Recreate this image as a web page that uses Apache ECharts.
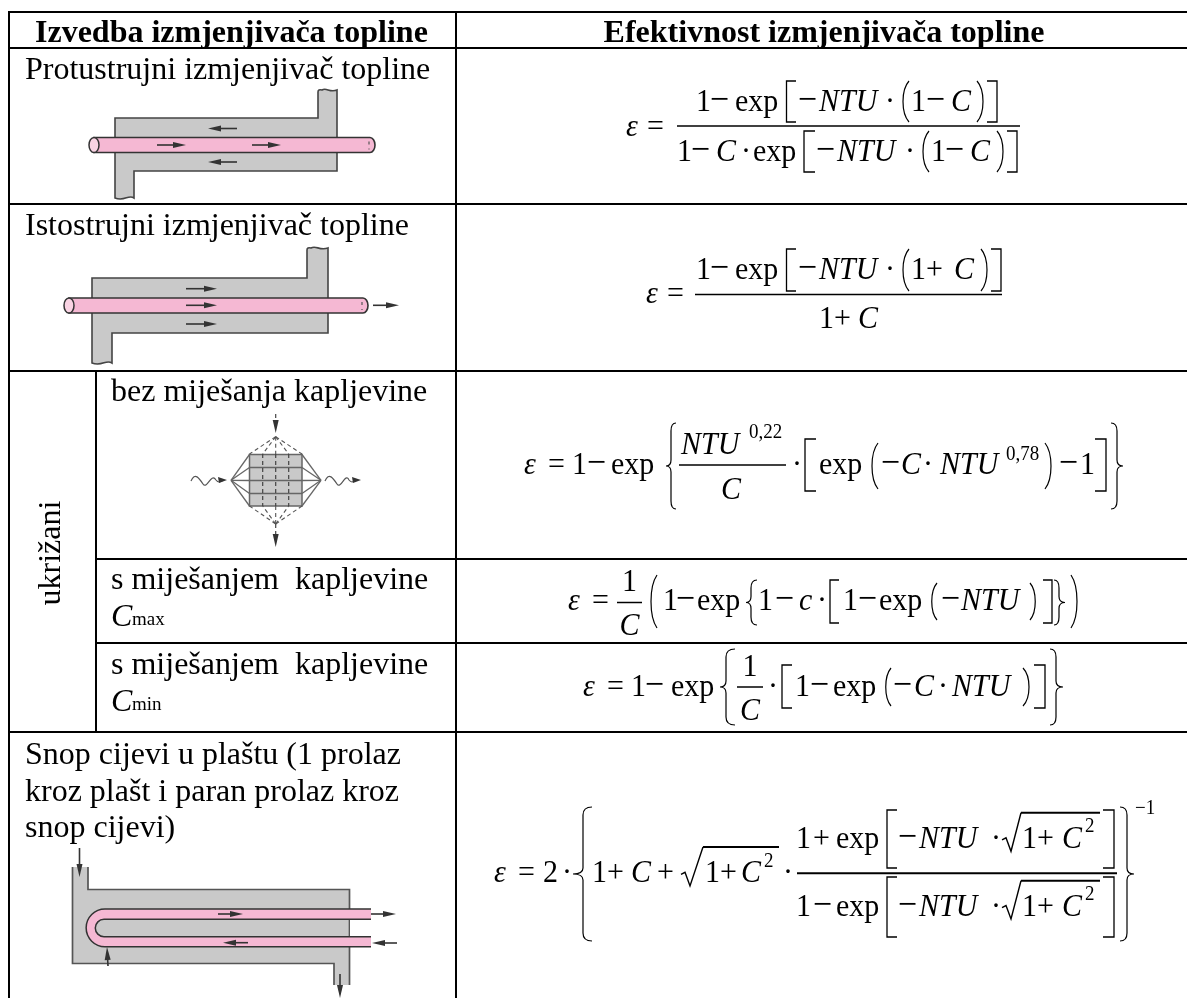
<!DOCTYPE html>
<html>
<head>
<meta charset="utf-8">
<style>html,body{margin:0;background:#fff}#main{width:1187px;height:998px}</style>
<script src="https://cdn.jsdelivr.net/npm/echarts@6/dist/echarts.min.js"></script>
</head>
<body>
<div id="main"></div>
<script>
const headers = ['Izvedba izmjenjivača topline', 'Efektivnost izmjenjivača topline']
const rowLabels = ['Protustrujni izmjenjivač topline', 'Istostrujni izmjenjivač topline', 'bez miješanja kapljevine', 's miješanjem  kapljevine', 's miješanjem  kapljevine']
const snopLines = ['Snop cijevi u plaštu (1 prolaz', 'kroz plašt i paran prolaz kroz', 'snop cijevi)']
const groupLabel = 'ukrižani'
const fullLines = [12, 48, 204, 371, 732]
const subLines = [559, 643]

const FONT = '"Liberation Serif", "Times New Roman", serif'
const INK = '#000'
const LINE = '#444'
const SHELL = '#c9c9c9'
const TUBE = '#f5b8d3'
const els = []
let stretch = 1 // formule su u originalu malo razvucene po visini

// t = tekst na bazi (baseline), s = velicina, st = stil
function t(x, b, str, s, st, align) {
  const it = st === 'i'
  const bold = st === 'b'
  els.push({
    type: 'text',
    x: x,
    y: b - stretch * 0.24 * s,
    scaleY: stretch,
    style: {
      x: 0, y: 0, text: str, fill: INK,
      font: (it ? 'italic ' : '') + (bold ? 'bold ' : '') + s + 'px ' + FONT,
      align: align || 'left', verticalAlign: 'middle'
    }
  })
}
function path(d, fill, stroke, w, dash) {
  els.push({
    type: 'path',
    shape: { pathData: d },
    style: { fill: fill || 'none', stroke: stroke || 'none', lineWidth: w || 1, lineDash: dash || null }
  })
}
function ln(x1, y1, x2, y2, w, c, dash) {
  els.push({
    type: 'line',
    shape: { x1: x1, y1: y1, x2: x2, y2: y2 },
    style: { stroke: c || '#000', lineWidth: w || 1, lineDash: dash || null }
  })
}
function arrow(x1, y1, x2, y2) {
  const dx = x2 - x1, dy = y2 - y1, l = Math.sqrt(dx * dx + dy * dy)
  const ux = dx / l, uy = dy / l, h = 13, o = 3
  ln(x1, y1, x2 - ux * h * 0.6, y2 - uy * h * 0.6, 1.6, '#333')
  path('M' + x2 + ' ' + y2 + 'L' + (x2 - ux * h - uy * o) + ' ' + (y2 - uy * h + ux * o) + 'L' + (x2 - ux * h + uy * o) + ' ' + (y2 - uy * h - ux * o) + 'Z', '#333')
}
// dijelovi formule
function sq(x0, x1, y0, y1) { // x0 = strana okomite crte, x1 = kraj nozica
  path('M' + x1 + ' ' + y0 + 'L' + x0 + ' ' + y0 + 'L' + x0 + ' ' + y1 + 'L' + x1 + ' ' + y1, null, INK, 1.3)
}
function paren(x0, x1, y0, y1) { // x0 = vrhovi, x1 = trbuh
  const k = (y1 - y0) * 0.22
  path('M' + x0 + ' ' + y0 + 'C' + x1 + ' ' + (y0 + k) + ' ' + x1 + ' ' + (y1 - k) + ' ' + x0 + ' ' + y1, null, INK, 1.2)
}
function brace(xTip, xSp, xEnd, y0, y1) {
  const m = (y0 + y1) / 2
  path('M' + xEnd + ' ' + y0 + 'Q' + xSp + ' ' + y0 + ' ' + xSp + ' ' + (y0 + 8) + 'L' + xSp + ' ' + (m - 6) +
    'Q' + xSp + ' ' + m + ' ' + xTip + ' ' + m + 'Q' + xSp + ' ' + m + ' ' + xSp + ' ' + (m + 6) +
    'L' + xSp + ' ' + (y1 - 8) + 'Q' + xSp + ' ' + y1 + ' ' + xEnd + ' ' + y1, null, INK, 1.2)
}
function sqrt(x0, xV, xTop, xEnd, yTop, yBot) {
  const yM = yBot - (yBot - yTop) * 0.35
  path('M' + x0 + ' ' + (yM + 2) + 'L' + (x0 + 4) + ' ' + yM + 'L' + xV + ' ' + yBot + 'L' + xTop + ' ' + yTop, null, INK, 1.4)
  ln(xTop, yTop, xEnd, yTop, 2)
}

function table() {
  fullLines.forEach(y => ln(8, y, 1187, y, 2))
  subLines.forEach(y => ln(96, y, 1187, y, 2))
  ln(9, 12, 9, 998, 2)
  ln(456, 12, 456, 998, 2)
  ln(96, 371, 96, 732, 2)
}

function labels() {
  t(35, 41, headers[0], 32, 'b')
  t(824, 41, headers[1], 32, 'b', 'center')
  t(25, 78, rowLabels[0], 32)
  t(25, 234, rowLabels[1], 32)
  t(111, 400, rowLabels[2], 32)
  t(111, 588, rowLabels[3], 32)
  t(111, 625, 'C', 32, 'i')
  t(132, 625, 'max', 19)
  t(111, 673, rowLabels[4], 32)
  t(111, 710, 'C', 32, 'i')
  t(132, 710, 'min', 19)
  snopLines.forEach((s, i) => t(25, 763 + i * 36.8, s, 32))
  els.push({
    type: 'text',
    rotation: Math.PI / 2,
    x: 52, y: 553,
    style: {
      x: 0, y: 0, text: groupLabel, fill: INK,
      font: '32px ' + FONT, align: 'center', verticalAlign: 'middle'
    }
  })
}

function wave(x, y, w, h) {
  return 'C' + (x + w * 0.3) + ' ' + (y - h) + ' ' + (x + w * 0.5) + ' ' + (y + h) + ' ' + (x + w) + ' ' + y
}

function tubeEnds(xL, xR, y0, y1) {
  const cy = (y0 + y1) / 2, ry = (y1 - y0) / 2
  path('M' + xL + ' ' + y0 + 'L' + xR + ' ' + y0 + 'A5 ' + ry + ' 0 0 1 ' + xR + ' ' + y1 + 'L' + xL + ' ' + y1 + 'Z', TUBE, '#333', 1.6)
  els.push({ type: 'ellipse', shape: { cx: xL, cy: cy, rx: 5, ry: ry }, style: { fill: '#f9d3e3', stroke: '#333', lineWidth: 1.5 } })
  ln(xR - 1, y0 + 4, xR - 1, y1 - 3, 1.2, '#555', [3, 4])
}

function diagram1() {
  path('M115 118L318 118L318 92Q318 89 322 90' + wave(322, 90, 15, 3) + 'L337 171L134 171L134 198' + wave(134, 198, -19, 4) + 'Z', SHELL, LINE, 1.6)
  tubeEnds(94, 370, 137.5, 152.5)
  arrow(237, 128.5, 208, 128.5)
  arrow(237, 162, 208, 162)
  arrow(157, 145, 186, 145)
  arrow(252, 145, 281, 145)
}
function diagram2() {
  path('M92 278L307 278L307 250Q307 247 311 248' + wave(311, 248, 17, 3) + 'L328 333L112 333L112 363' + wave(112, 363, -20, 4) + 'Z', SHELL, LINE, 1.6)
  tubeEnds(69, 363, 298, 313)
  arrow(186, 288.7, 217, 288.7)
  arrow(186, 305.3, 217, 305.3)
  arrow(186, 324, 217, 324)
  arrow(373, 305.3, 399, 305.3)
}
function diagram3() {
  const c = '#666', d = [4, 3]
  els.push({ type: 'rect', shape: { x: 249.5, y: 454.5, width: 52.5, height: 51.5 }, style: { fill: SHELL, stroke: c, lineWidth: 1.5 } })
  ;[467.5, 480.5, 493.5].forEach(y => {
    ln(249, y, 302, y, 1.3, c)
    ln(231, 480.3, 249.5, y, 1.3, c)
    ln(321, 480.3, 302, y, 1.3, c)
  })
  ;[454.5, 506].forEach(y => { ln(231, 480.3, 249.5, y, 1.3, c); ln(321, 480.3, 302, y, 1.3, c) })
  ;[262.7, 275.7, 288.7].forEach(x => {
    ln(x, 454, x, 506, 1.2, '#444', d)
    ln(275.7, 436.7, x, 454, 1.1, '#555', d)
    ln(275.7, 524, x, 506, 1.1, '#555', d)
  })
  ;[249.5, 302].forEach(x => { ln(275.7, 436.7, x, 454, 1.1, '#555', d); ln(275.7, 524, x, 506, 1.1, '#555', d) })
  ln(275.7, 414, 275.7, 426, 1.2, '#444', d)
  arrow(275.7, 424, 275.7, 433)
  ln(275.7, 524, 275.7, 538, 1.2, '#444', d)
  arrow(275.7, 537, 275.7, 547)
  path('M191 481C195 472 199 478 203 484C207 490 211 472 216 480C219 484 221 481 224 480', null, '#555', 1.2)
  path('M227 480L218 477L219 483Z', '#333')
  path('M325 481C329 472 333 478 337 484C341 490 345 472 349 480C352 484 354 481 356 480', null, '#555', 1.2)
  path('M361 480L352 477L353 483Z', '#333')
}
function diagram4() {
  const c = '#555'
  path('M72.5 867L88 867L88 889.5L349.5 889.5L349.5 985L334 985L334 963.5L72.5 963.5Z', SHELL)
  path('M72.5 867L72.5 963.5L334 963.5L334 985', null, c, 1.7)
  path('M88 867L88 889.5L349.5 889.5L349.5 985', null, c, 1.7)
  path('M371 909L105 909A18.8 18.8 0 0 0 105 946.7L371 946.7L371 937L104 937A9 9 0 0 1 104 919L371 919Z', TUBE)
  path('M371 909L105 909A18.8 18.8 0 0 0 105 946.7L371 946.7', null, '#333', 1.5)
  path('M371 919.3L104 919.3A8.7 8.7 0 0 0 104 936.7L371 936.7', null, '#333', 1.5)
  els.push({ type: 'rect', shape: { x: 350, y: 920, width: 21, height: 16 }, style: { fill: '#fff' } })
  arrow(218, 914, 243, 914)
  arrow(248, 942.7, 223, 942.7)
  arrow(371, 914, 396, 914)
  arrow(397, 943, 372, 943)
  arrow(79.5, 848, 79.5, 877)
  arrow(108, 966, 107, 947)
  arrow(340, 974, 340, 998)
}

// minus je u originalu dulji od glifa fonta
function minus(x, b, s) { t(x - 1, b, '−', s + 4) }

function formula1() {
  const S = 30
  t(626, 135, 'ε', S, 'i'); t(647, 135, '=', S)
  ln(677, 126, 1020, 126, 1.5)
  t(696, 110, '1', S); minus(711, 110, S); t(735, 110, 'exp', S)
  sq(786.5, 796, 81, 122); minus(799, 110, S); t(819, 110, 'NTU', S, 'i'); t(885, 110, '·', S)
  paren(909, 901, 81, 122); t(911, 110, '1', S); minus(927, 110, S); t(951, 110, 'C', S, 'i')
  paren(977, 985, 81, 122); sq(997, 987, 81, 122)
  t(677, 160, '1', S); minus(692, 160, S); t(716, 160, 'C', S, 'i'); t(741, 160, '·', S); t(753, 160, 'exp', S)
  sq(804, 815, 131, 172); minus(817, 160, S); t(837, 160, 'NTU', S, 'i'); t(905, 160, '·', S)
  paren(929, 921, 131, 172); t(931, 160, '1', S); minus(946, 160, S); t(970, 160, 'C', S, 'i')
  paren(997, 1005, 131, 172); sq(1017, 1007, 131, 172)
}
function formula2() {
  const S = 30
  t(646, 302.5, 'ε', S, 'i'); t(667, 302.5, '=', S)
  ln(695, 294.5, 1002, 294.5, 1.5)
  t(696, 278, '1', S); minus(711, 278, S); t(735, 278, 'exp', S)
  sq(786.5, 796, 249, 291); minus(799, 278, S); t(819, 278, 'NTU', S, 'i'); t(885, 278, '·', S)
  paren(909, 901, 249, 291); t(911, 278, '1', S); t(926, 278, '+', S); t(954, 278, 'C', S, 'i')
  paren(981, 989, 249, 291); sq(1001, 991, 249, 291)
  t(819, 327, '1', S); t(834, 327, '+', S); t(858, 327, 'C', S, 'i')
}
function formula3() {
  const S = 30, B = 473
  t(524, B, 'ε', S, 'i'); t(548, B, '=', S); t(572, B, '1', S); minus(588, B, S); t(611, B, 'exp', S)
  brace(666, 671, 676, 423, 509)
  ln(679, 465, 786, 465, 1.5)
  t(681, 453, 'NTU', S, 'i'); t(749, 438, '0,22', 19)
  t(721, 498, 'C', S, 'i')
  t(792, B, '·', S)
  sq(805, 816, 439, 491); t(819, B, 'exp', S)
  paren(878, 870, 443, 489); minus(882, B, S); t(901, B, 'C', S, 'i'); t(923, B, '·', S)
  t(940, B, 'NTU', S, 'i'); t(1006, 460, '0,78', 19)
  paren(1045, 1053, 443, 489); minus(1060, B, S); t(1080, B, '1', S)
  sq(1106, 1095, 439, 491)
  brace(1123, 1117, 1111, 423, 509)
}
function formula4() {
  const S = 30, B = 609
  t(568, B, 'ε', S, 'i'); t(592, B, '=', S)
  ln(617, 602.5, 642, 602.5, 1.5); t(629.5, 590, '1', S, null, 'center'); t(629.5, 634, 'C', S, 'i', 'center')
  paren(657, 649, 575, 628)
  t(663, B, '1', S); minus(677, B, S); t(697, B, 'exp', S)
  brace(746, 751, 757, 580, 625)
  t(758, B, '1', S); minus(776, B, S); t(799, B, 'c', S, 'i'); t(817, B, '·', S)
  sq(830, 839, 580, 623); t(843, B, '1', S); minus(859, B, S); t(879, B, 'exp', S)
  paren(937, 930, 583, 620); minus(942, B, S); t(961, B, 'NTU', S, 'i')
  paren(1030, 1037, 583, 620); sq(1052, 1043, 580, 623)
  brace(1065, 1059, 1054, 580, 625)
  paren(1071, 1079, 575, 628)
}
function formula5() {
  const S = 30, B = 695
  t(583, B, 'ε', S, 'i'); t(607, B, '=', S); t(631, B, '1', S); minus(646, B, S); t(671, B, 'exp', S)
  brace(720, 726, 735, 649, 725)
  ln(737, 687, 763, 687, 1.5); t(750, 675, '1', S, null, 'center'); t(750, 719, 'C', S, 'i', 'center')
  t(768, B, '·', S)
  sq(782, 792, 665, 708); t(795, B, '1', S); minus(811, B, S); t(833, B, 'exp', S)
  paren(891, 884, 668, 706); minus(894, B, S); t(914, B, 'C', S, 'i'); t(938, B, '·', S); t(952, B, 'NTU', S, 'i')
  paren(1023, 1031, 668, 706); sq(1045, 1034, 665, 708)
  brace(1063, 1056, 1050, 649, 725)
}
function formula6() {
  const S = 30, B = 881.5
  t(494, B, 'ε', S, 'i'); t(518, B, '=', S); t(543, B, '2', S); t(562, B, '·', S)
  brace(573, 583, 592, 807, 941)
  t(592, B, '1', S); t(607, B, '+', S); t(631, B, 'C', S, 'i'); t(657, B, '+', S)
  sqrt(681, 690, 703, 779, 847, 886)
  t(705, B, '1', S); t(720, B, '+', S); t(741, B, 'C', S, 'i'); t(764, 866.5, '2', 19)
  t(783, B, '·', S)
  ln(797, 873.3, 1117, 873.3, 2)
  ;[[847.3, 810, 868, 812.7, '+'], [915, 877, 937, 880.7, '−']].forEach(r => {
    const b = r[0]
    t(796, b, '1', S)
    if (r[4] === '+') t(813, b, '+', S); else minus(814, b, S)
    t(836, b, 'exp', S)
    sq(887, 897, r[1], r[2]); minus(899, b, S); t(919, b, 'NTU', S, 'i'); t(991, b, '·', S)
    sqrt(1002, 1011, 1021, 1100, r[3], b + 4)
    t(1022, b, '1', S); t(1037, b, '+', S); t(1062, b, 'C', S, 'i'); t(1085, b - 15.6, '2', 19)
    sq(1114, 1103, r[1], r[2])
  })
  brace(1134, 1127, 1120, 807, 941)
  t(1135, 814, '−1', 19)
}

table()
labels()
diagram1(); diagram2(); diagram3(); diagram4()
stretch = 1.08
formula1(); formula2(); formula3(); formula4(); formula5(); formula6()

const chart = echarts.init(document.getElementById('main'), null, { renderer: 'canvas' })
chart.setOption({
  animation: false,
  backgroundColor: '#fff',
  series: [{
    type: 'custom',
    coordinateSystem: 'none',
    silent: true,
    data: [0],
    renderItem: function () {
      return { type: 'group', children: els }
    }
  }]
})
</script>
</body>
</html>
